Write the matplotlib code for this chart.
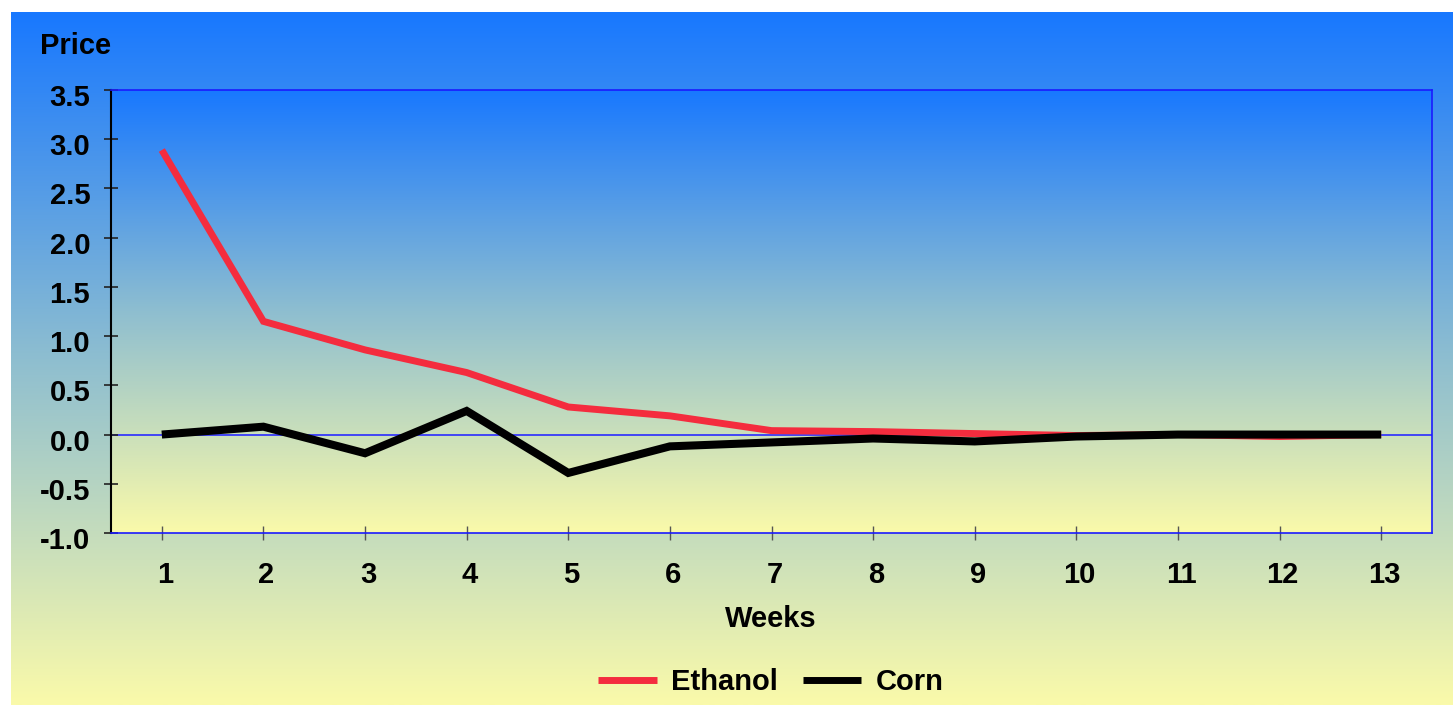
import numpy as np
import matplotlib
matplotlib.use("Agg")
import matplotlib.pyplot as plt
import matplotlib.transforms as mtransforms
from matplotlib.colors import LinearSegmentedColormap
from matplotlib.lines import Line2D

weeks = [1, 2, 3, 4, 5, 6, 7, 8, 9, 10, 11, 12, 13]
ethanol = [2.89, 1.15, 0.86, 0.63, 0.28, 0.19, 0.04, 0.03, 0.01, -0.01, 0.0, -0.02, 0.0]
corn = [0.0, 0.08, -0.19, 0.24, -0.39, -0.12, -0.08, -0.04, -0.07, -0.02, 0.0, 0.0, 0.0]
yticks = [-1.0, -0.5, 0.0, 0.5, 1.0, 1.5, 2.0, 2.5, 3.0, 3.5]

W, H = 1453, 706
plt.rcParams['font.family'] = ['Liberation Sans', 'DejaVu Sans']
plt.rcParams['font.weight'] = 'bold'

fig = plt.figure(figsize=(W / 100, H / 100), dpi=100)
fig.patch.set_facecolor('white')

grad_cmap = LinearSegmentedColormap.from_list(
    'by', [(0.0, '#1878FF'), (0.5, '#8EBED0'), (1.0, '#FAFAAA')])
grad = np.linspace(0, 1, 256).reshape(-1, 1)

# figure background gradient
bg = fig.add_axes([11 / W, 1 / H, (W - 11) / W, (705 - 12) / H])
bg.imshow(grad, cmap=grad_cmap, aspect='auto', extent=[0, 1, 0, 1], origin='upper')
bg.set_axis_off()
bg.set_zorder(-10)

ax = fig.add_axes([111 / W, 1 - 533 / H, (1432 - 111) / W, (533 - 90) / H])
ax.patch.set_alpha(0)
ax.imshow(grad, cmap=grad_cmap, aspect='auto', extent=[0.5, 13.5, -1, 3.5],
          origin='upper', zorder=0)
ax.set_xlim(0.5, 13.5)
ax.set_ylim(-1, 3.5)

ax.axhline(0, color='#2a2aff', lw=1.2, zorder=1)
ax.plot(weeks, ethanol, color='#F42C3E', lw=5, solid_capstyle='butt',
        solid_joinstyle='miter', zorder=3)
ax.plot(weeks, corn, color='black', lw=5.8, solid_capstyle='butt',
        solid_joinstyle='miter', zorder=4)

for s in ['top', 'right', 'bottom']:
    ax.spines[s].set_color('#1a1aff')
    ax.spines[s].set_linewidth(1.2)
ax.spines['left'].set_color('black')
ax.spines['left'].set_linewidth(1.5)

ax.set_yticks(yticks)
ax.set_yticklabels([f'{v:.1f}' for v in yticks])
ax.set_xticks(weeks)
ax.set_xticklabels([str(w) for w in weeks])
ax.tick_params(axis='y', direction='inout', length=10, width=1.2, color='#222222',
               pad=10, labelsize=21)
ax.tick_params(axis='x', direction='inout', length=10, width=1.0, color='#555555',
               pad=15, labelsize=21)
for lab in ax.get_xticklabels() + ax.get_yticklabels():
    lab.set_fontweight('bold')

ydown = mtransforms.ScaledTranslation(0, -5 / 100, fig.dpi_scale_trans)
for lab in ax.get_yticklabels():
    lab.set_transform(lab.get_transform() + ydown)
xright = mtransforms.ScaledTranslation(3 / 100, 0, fig.dpi_scale_trans)
for lab in ax.get_xticklabels():
    lab.set_transform(lab.get_transform() + xright)

fig.text(40 / W, 1 - 46 / H, 'Price', ha='left', va='center', fontsize=21,
         fontweight='bold')
fig.text(771 / W, 1 - 619 / H, 'Weeks', ha='center', va='center', fontsize=21,
         fontweight='bold')

handles = [Line2D([], [], color='#F42C3E', lw=5, solid_capstyle='butt'),
           Line2D([], [], color='black', lw=5, solid_capstyle='butt')]
fig.legend(handles, ['Ethanol', 'Corn'], loc='center',
           bbox_to_anchor=(771 / W, 1 - 682 / H), ncol=2, frameon=False,
           prop={'size': 21, 'weight': 'bold'}, handlelength=2.0,
           handletextpad=0.5, columnspacing=0.85)

fig.savefig('out.png', dpi=100)
